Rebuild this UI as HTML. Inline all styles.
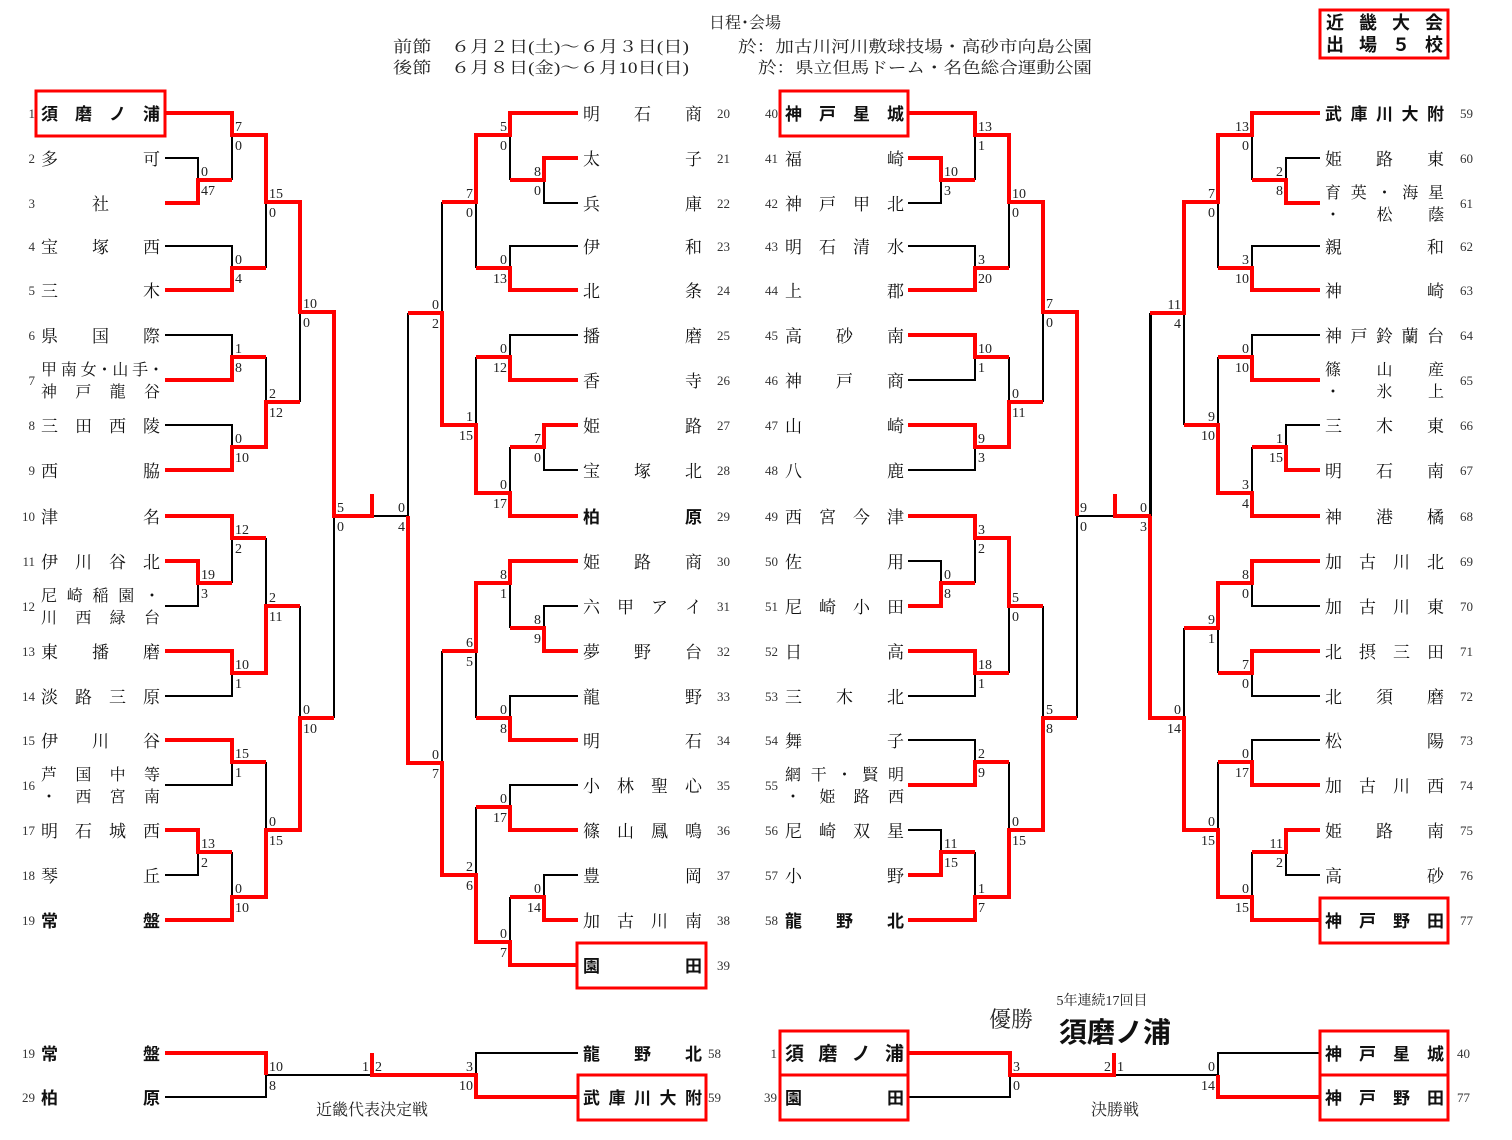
<!DOCTYPE html>
<html><head><meta charset="utf-8">
<style>
body{margin:0;background:#fff;}
#w{position:relative;width:1512px;height:1140px;overflow:hidden;background:#fff;}
svg{position:absolute;left:0;top:0;}
.n{position:absolute;width:119px;height:20px;line-height:20px;font-size:17px;text-align:justify;text-align-last:justify;font-family:"Liberation Serif","Noto Serif CJK SC",serif;color:#111;white-space:nowrap;margin-top:2px;}
.n2{position:absolute;width:119px;line-height:22px;font-size:16px;text-align:justify;text-align-last:justify;font-family:"Liberation Serif","Noto Serif CJK SC",serif;color:#111;margin-top:2px;}
.c{text-align:center;text-align-last:center;}
.b{font-family:"Liberation Sans","Noto Sans CJK JP",sans-serif;font-weight:bold;}
</style></head><body><div id="w">
<svg width="1512" height="1140" viewBox="0 0 1512 1140" xmlns="http://www.w3.org/2000/svg">
<g fill="none" stroke="#000" stroke-width="2">
<path d="M165,158H198V180 M232,135V180 M165,246H232V268 M266,202V268 M165,335H232V357 M165,425H232V447 M266,357V402 M300,312V402 M165,606H198V583 M232,538V583 M165,696H232V673 M266,538V606 M165,785H232V762 M165,875H198V852 M232,852V897 M266,762V830 M300,606V718 M334,516V718 M372,516H408 M408,313V516"/>
<path d="M578,203H544V180 M510,135V180 M578,246H510V268 M476,202V268 M578,335H510V357 M578,470H544V447 M510,447V493 M476,357V425 M442,202V313 M578,606H544V628 M510,583V628 M578,696H510V718 M476,651V718 M578,785H510V807 M578,875H544V897 M510,897V942 M476,807V875 M442,651V763"/>
<path transform="translate(743,0)" d="M165,203H198V180 M232,135V180 M165,246H232V268 M266,202V268 M165,380H232V357 M165,470H232V447 M266,357V402 M300,312V402 M165,561H198V583 M232,538V583 M165,696H232V673 M266,606V673 M165,740H232V762 M165,830H198V852 M232,852V897 M266,762V830 M300,606V718 M334,516V718 M334,516H372 M408,313V516"/>
<path transform="translate(742,0)" d="M578,158H544V180 M510,135V180 M578,246H510V268 M476,202V268 M578,335H510V357 M578,425H544V447 M510,447V493 M476,357V425 M442,313V425 M578,606H510V583 M578,696H510V673 M476,628V673 M578,740H510V762 M578,875H544V852 M510,852V897 M476,762V830 M442,628V718 M408,313V516"/>
<path d="M165,1097H266V1075 M266,1075H372 M578,1053H476V1075 M908,1097H1010V1075 M1114,1075H1218 M1320,1053H1218V1075"/>
</g>
<g fill="none" stroke="#ff0000" stroke-width="4">
<path d="M165,113H232V135H266V202H300V312H334V516H372 M372,494V518 M165,203H198V180H232 M165,290H232V268H266 M165,380H232V357H266 M165,470H232V447H266V402H300 M165,516H232V538H266 M165,561H198V583H232 M165,651H232V673H266V606H300 M165,740H232V762H266 M165,830H198V852H232 M165,920H232V897H266V830H300V718H334"/>
<path d="M578,113H510V135H476V202H442 M578,158H544V180H510 M578,290H510V268H476 M578,380H510V357H476 M578,425H544V447H510 M578,516H510V493H476V425H442V313H408 M578,561H510V583H476V651H442 M578,651H544V628H510 M578,740H510V718H476 M578,830H510V807H476 M578,920H544V897H510 M578,965H510V942H476V875H442V763H408V516"/>
<path transform="translate(743,0)" d="M165,113H232V135H266V202H300V312H334V516 M165,158H198V180H232 M165,290H232V268H266 M165,335H232V357H266 M165,425H232V447H266V402H300 M165,516H232V538H266V606H300 M165,606H198V583H232 M165,651H232V673H266 M165,785H232V762H266 M165,875H198V852H232 M165,920H232V897H266V830H300V718H334 M372,494V516H408"/>
<path transform="translate(742,0)" d="M578,113H510V135H476V202H442V313H408 M578,203H544V180H510 M578,290H510V268H476 M578,380H510V357H476 M578,470H544V447H510 M578,516H510V493H476V425H442 M578,561H510V583H476V628H442 M578,651H510V673H476 M578,785H510V762H476 M578,830H544V852H510 M578,920H510V897H476V830H442V718H408V516"/>
<path d="M165,1053H266V1075 M372,1053V1075H476V1097H578 M908,1053H1010V1075H1114 M1114,1053V1077 M1218,1075V1097H1320"/>
</g>
<g fill="none" stroke="#ff0000" stroke-width="3">
<rect x="36" y="91" width="129" height="45"/>
<rect x="577" y="943" width="129" height="45"/>
<rect x="780" y="91" width="128" height="45"/>
<rect x="1320" y="898" width="128" height="45"/>
<rect x="1320" y="10" width="128" height="48"/>
<rect x="578" y="1075" width="128" height="45"/>
<rect x="780" y="1031" width="128" height="44"/>
<rect x="780" y="1075" width="128" height="45"/>
<rect x="1320" y="1031" width="128" height="44"/>
<rect x="1320" y="1075" width="128" height="45"/>
</g>
<g font-family="Liberation Serif, serif" font-size="14" fill="#222">
<text x="201" y="176">0</text><text x="201" y="195">47</text>
<text x="235" y="131">7</text><text x="235" y="150">0</text>
<text x="235" y="264">0</text><text x="235" y="283">4</text>
<text x="269" y="198">15</text><text x="269" y="217">0</text>
<text x="235" y="353">1</text><text x="235" y="372">8</text>
<text x="235" y="443">0</text><text x="235" y="462">10</text>
<text x="269" y="398">2</text><text x="269" y="417">12</text>
<text x="303" y="308">10</text><text x="303" y="327">0</text>
<text x="201" y="579">19</text><text x="201" y="598">3</text>
<text x="235" y="534">12</text><text x="235" y="553">2</text>
<text x="235" y="669">10</text><text x="235" y="688">1</text>
<text x="269" y="602">2</text><text x="269" y="621">11</text>
<text x="235" y="758">15</text><text x="235" y="777">1</text>
<text x="201" y="848">13</text><text x="201" y="867">2</text>
<text x="235" y="893">0</text><text x="235" y="912">10</text>
<text x="269" y="826">0</text><text x="269" y="845">15</text>
<text x="303" y="714">0</text><text x="303" y="733">10</text>
<text x="337" y="512">5</text><text x="337" y="531">0</text>
<text x="944" y="176">10</text><text x="944" y="195">3</text>
<text x="978" y="131">13</text><text x="978" y="150">1</text>
<text x="978" y="264">3</text><text x="978" y="283">20</text>
<text x="1012" y="198">10</text><text x="1012" y="217">0</text>
<text x="978" y="353">10</text><text x="978" y="372">1</text>
<text x="978" y="443">9</text><text x="978" y="462">3</text>
<text x="1012" y="398">0</text><text x="1012" y="417">11</text>
<text x="1046" y="308">7</text><text x="1046" y="327">0</text>
<text x="944" y="579">0</text><text x="944" y="598">8</text>
<text x="978" y="534">3</text><text x="978" y="553">2</text>
<text x="978" y="669">18</text><text x="978" y="688">1</text>
<text x="1012" y="602">5</text><text x="1012" y="621">0</text>
<text x="978" y="758">2</text><text x="978" y="777">9</text>
<text x="944" y="848">11</text><text x="944" y="867">15</text>
<text x="978" y="893">1</text><text x="978" y="912">7</text>
<text x="1012" y="826">0</text><text x="1012" y="845">15</text>
<text x="1046" y="714">5</text><text x="1046" y="733">8</text>
<text x="1080" y="512">9</text><text x="1080" y="531">0</text>
<text x="269" y="1071">10</text><text x="269" y="1090">8</text>
<text x="375" y="1071">2</text>
<text x="1013" y="1071">3</text><text x="1013" y="1090">0</text>
<text x="1117" y="1071">1</text>
</g>
<g font-family="Liberation Serif, serif" font-size="14" fill="#222" text-anchor="end">
<text x="541" y="176">8</text><text x="541" y="195">0</text>
<text x="507" y="131">5</text><text x="507" y="150">0</text>
<text x="507" y="264">0</text><text x="507" y="283">13</text>
<text x="473" y="198">7</text><text x="473" y="217">0</text>
<text x="507" y="353">0</text><text x="507" y="372">12</text>
<text x="541" y="443">7</text><text x="541" y="462">0</text>
<text x="507" y="489">0</text><text x="507" y="508">17</text>
<text x="473" y="421">1</text><text x="473" y="440">15</text>
<text x="439" y="309">0</text><text x="439" y="328">2</text>
<text x="405" y="512">0</text><text x="405" y="531">4</text>
<text x="541" y="624">8</text><text x="541" y="643">9</text>
<text x="507" y="579">8</text><text x="507" y="598">1</text>
<text x="507" y="714">0</text><text x="507" y="733">8</text>
<text x="473" y="647">6</text><text x="473" y="666">5</text>
<text x="507" y="803">0</text><text x="507" y="822">17</text>
<text x="541" y="893">0</text><text x="541" y="912">14</text>
<text x="507" y="938">0</text><text x="507" y="957">7</text>
<text x="473" y="871">2</text><text x="473" y="890">6</text>
<text x="439" y="759">0</text><text x="439" y="778">7</text>
<text x="1283" y="176">2</text><text x="1283" y="195">8</text>
<text x="1249" y="131">13</text><text x="1249" y="150">0</text>
<text x="1249" y="264">3</text><text x="1249" y="283">10</text>
<text x="1215" y="198">7</text><text x="1215" y="217">0</text>
<text x="1249" y="353">0</text><text x="1249" y="372">10</text>
<text x="1283" y="443">1</text><text x="1283" y="462">15</text>
<text x="1249" y="489">3</text><text x="1249" y="508">4</text>
<text x="1215" y="421">9</text><text x="1215" y="440">10</text>
<text x="1181" y="309">11</text><text x="1181" y="328">4</text>
<text x="1147" y="512">0</text><text x="1147" y="531">3</text>
<text x="1249" y="579">8</text><text x="1249" y="598">0</text>
<text x="1249" y="669">7</text><text x="1249" y="688">0</text>
<text x="1215" y="624">9</text><text x="1215" y="643">1</text>
<text x="1249" y="758">0</text><text x="1249" y="777">17</text>
<text x="1283" y="848">11</text><text x="1283" y="867">2</text>
<text x="1249" y="893">0</text><text x="1249" y="912">15</text>
<text x="1215" y="826">0</text><text x="1215" y="845">15</text>
<text x="1181" y="714">0</text><text x="1181" y="733">14</text>
<text x="369" y="1071">1</text>
<text x="473" y="1071">3</text><text x="473" y="1090">10</text>
<text x="1111" y="1071">2</text>
<text x="1215" y="1071">0</text><text x="1215" y="1090">14</text>
</g>
<g font-family="Liberation Serif, serif" font-size="13" fill="#333" text-anchor="end">
<text x="35" y="118">1</text><text x="35" y="163">2</text><text x="35" y="208">3</text><text x="35" y="251">4</text><text x="35" y="295">5</text><text x="35" y="340">6</text><text x="35" y="385">7</text><text x="35" y="430">8</text><text x="35" y="475">9</text><text x="35" y="521">10</text><text x="35" y="566">11</text><text x="35" y="611">12</text><text x="35" y="656">13</text><text x="35" y="701">14</text><text x="35" y="745">15</text><text x="35" y="790">16</text><text x="35" y="835">17</text><text x="35" y="880">18</text><text x="35" y="925">19</text>
<text x="778" y="118">40</text><text x="778" y="163">41</text><text x="778" y="208">42</text><text x="778" y="251">43</text><text x="778" y="295">44</text><text x="778" y="340">45</text><text x="778" y="385">46</text><text x="778" y="430">47</text><text x="778" y="475">48</text><text x="778" y="521">49</text><text x="778" y="566">50</text><text x="778" y="611">51</text><text x="778" y="656">52</text><text x="778" y="701">53</text><text x="778" y="745">54</text><text x="778" y="790">55</text><text x="778" y="835">56</text><text x="778" y="880">57</text><text x="778" y="925">58</text>
<text x="35" y="1058">19</text><text x="35" y="1102">29</text><text x="777" y="1058">1</text><text x="777" y="1102">39</text>
</g>
<g font-family="Liberation Serif, serif" font-size="13" fill="#333">
<text x="717" y="118">20</text><text x="717" y="163">21</text><text x="717" y="208">22</text><text x="717" y="251">23</text><text x="717" y="295">24</text><text x="717" y="340">25</text><text x="717" y="385">26</text><text x="717" y="430">27</text><text x="717" y="475">28</text><text x="717" y="521">29</text><text x="717" y="566">30</text><text x="717" y="611">31</text><text x="717" y="656">32</text><text x="717" y="701">33</text><text x="717" y="745">34</text><text x="717" y="790">35</text><text x="717" y="835">36</text><text x="717" y="880">37</text><text x="717" y="925">38</text><text x="717" y="970">39</text>
<text x="1460" y="118">59</text><text x="1460" y="163">60</text><text x="1460" y="208">61</text><text x="1460" y="251">62</text><text x="1460" y="295">63</text><text x="1460" y="340">64</text><text x="1460" y="385">65</text><text x="1460" y="430">66</text><text x="1460" y="475">67</text><text x="1460" y="521">68</text><text x="1460" y="566">69</text><text x="1460" y="611">70</text><text x="1460" y="656">71</text><text x="1460" y="701">72</text><text x="1460" y="745">73</text><text x="1460" y="790">74</text><text x="1460" y="835">75</text><text x="1460" y="880">76</text><text x="1460" y="925">77</text>
<text x="708" y="1058">58</text><text x="708" y="1102">59</text><text x="1457" y="1058">40</text><text x="1457" y="1102">77</text>
</g>
<g font-family="Liberation Serif, 'Noto Serif CJK SC', serif" font-size="16" fill="#222">
<text x="745" y="28" text-anchor="middle">日程･会場</text>
<text x="393" y="52" textLength="296" lengthAdjust="spacingAndGlyphs">前節　６月２日(土)～６月３日(日)</text>
<text x="393" y="73" textLength="296" lengthAdjust="spacingAndGlyphs">後節　６月８日(金)～６月10日(日)</text>
<text x="738" y="52" textLength="354" lengthAdjust="spacingAndGlyphs">於：加古川河川敷球技場・高砂市向島公園</text>
<text x="758" y="73" textLength="334" lengthAdjust="spacingAndGlyphs">於：県立但馬ドーム・名色総合運動公園</text>
<text x="372" y="1115" text-anchor="middle">近畿代表決定戦</text>
<text x="1115" y="1115" text-anchor="middle">決勝戦</text>
<text x="1102" y="1005" text-anchor="middle" font-size="14">5年連続17回目</text>
<text x="1011" y="1027" text-anchor="middle" font-size="22">優勝</text>
</g>
<text x="1115" y="1042" text-anchor="middle" font-family="Liberation Sans, 'Noto Sans CJK JP', sans-serif" font-weight="bold" font-size="28" fill="#111">須磨ノ浦</text>
</svg>

<div class="n b" style="left:1326px;top:10px;width:117px;font-size:18px;line-height:22px;height:22px">近 畿 大 会</div>
<div class="n b" style="left:1326px;top:32px;width:117px;font-size:18px;line-height:22px;height:22px">出 場 ５ 校</div>

<div class="n b" style="left:41px;top:103px">須 磨 ノ 浦</div>
<div class="n" style="left:41px;top:148px">多 可</div>
<div class="n c" style="left:41px;top:193px">社</div>
<div class="n" style="left:41px;top:236px">宝 塚 西</div>
<div class="n" style="left:41px;top:280px">三 木</div>
<div class="n" style="left:41px;top:325px">県 国 際</div>
<div class="n2" style="left:41px;top:358px">甲南女･山手･<br>神 戸 龍 谷</div>
<div class="n" style="left:41px;top:415px">三 田 西 陵</div>
<div class="n" style="left:41px;top:460px">西 脇</div>
<div class="n" style="left:41px;top:506px">津 名</div>
<div class="n" style="left:41px;top:551px">伊 川 谷 北</div>
<div class="n2" style="left:41px;top:584px">尼 崎 稲 園 ・<br>川 西 緑 台</div>
<div class="n" style="left:41px;top:641px">東 播 磨</div>
<div class="n" style="left:41px;top:686px">淡 路 三 原</div>
<div class="n" style="left:41px;top:730px">伊 川 谷</div>
<div class="n2" style="left:41px;top:763px">芦 国 中 等<br>・ 西 宮 南</div>
<div class="n" style="left:41px;top:820px">明 石 城 西</div>
<div class="n" style="left:41px;top:865px">琴 丘</div>
<div class="n b" style="left:41px;top:910px">常 盤</div>

<div class="n" style="left:583px;top:103px">明 石 商</div>
<div class="n" style="left:583px;top:148px">太 子</div>
<div class="n" style="left:583px;top:193px">兵 庫</div>
<div class="n" style="left:583px;top:236px">伊 和</div>
<div class="n" style="left:583px;top:280px">北 条</div>
<div class="n" style="left:583px;top:325px">播 磨</div>
<div class="n" style="left:583px;top:370px">香 寺</div>
<div class="n" style="left:583px;top:415px">姫 路</div>
<div class="n" style="left:583px;top:460px">宝 塚 北</div>
<div class="n b" style="left:583px;top:506px">柏 原</div>
<div class="n" style="left:583px;top:551px">姫 路 商</div>
<div class="n" style="left:583px;top:596px">六 甲 ア イ</div>
<div class="n" style="left:583px;top:641px">夢 野 台</div>
<div class="n" style="left:583px;top:686px">龍 野</div>
<div class="n" style="left:583px;top:730px">明 石</div>
<div class="n" style="left:583px;top:775px">小 林 聖 心</div>
<div class="n" style="left:583px;top:820px">篠 山 鳳 鳴</div>
<div class="n" style="left:583px;top:865px">豊 岡</div>
<div class="n" style="left:583px;top:910px">加 古 川 南</div>
<div class="n b" style="left:583px;top:955px">園 田</div>

<div class="n b" style="left:785px;top:103px">神 戸 星 城</div>
<div class="n" style="left:785px;top:148px">福 崎</div>
<div class="n" style="left:785px;top:193px">神 戸 甲 北</div>
<div class="n" style="left:785px;top:236px">明 石 清 水</div>
<div class="n" style="left:785px;top:280px">上 郡</div>
<div class="n" style="left:785px;top:325px">高 砂 南</div>
<div class="n" style="left:785px;top:370px">神 戸 商</div>
<div class="n" style="left:785px;top:415px">山 崎</div>
<div class="n" style="left:785px;top:460px">八 鹿</div>
<div class="n" style="left:785px;top:506px">西 宮 今 津</div>
<div class="n" style="left:785px;top:551px">佐 用</div>
<div class="n" style="left:785px;top:596px">尼 崎 小 田</div>
<div class="n" style="left:785px;top:641px">日 高</div>
<div class="n" style="left:785px;top:686px">三 木 北</div>
<div class="n" style="left:785px;top:730px">舞 子</div>
<div class="n2" style="left:785px;top:763px">網 干 ・ 賢 明<br>・ 姫 路 西</div>
<div class="n" style="left:785px;top:820px">尼 崎 双 星</div>
<div class="n" style="left:785px;top:865px">小 野</div>
<div class="n b" style="left:785px;top:910px">龍 野 北</div>

<div class="n b" style="left:1325px;top:103px">武 庫 川 大 附</div>
<div class="n" style="left:1325px;top:148px">姫 路 東</div>
<div class="n2" style="left:1325px;top:181px">育 英 ・ 海 星<br>・ 松 蔭</div>
<div class="n" style="left:1325px;top:236px">親 和</div>
<div class="n" style="left:1325px;top:280px">神 崎</div>
<div class="n" style="left:1325px;top:325px">神 戸 鈴 蘭 台</div>
<div class="n2" style="left:1325px;top:358px">篠 山 産<br>・ 氷 上</div>
<div class="n" style="left:1325px;top:415px">三 木 東</div>
<div class="n" style="left:1325px;top:460px">明 石 南</div>
<div class="n" style="left:1325px;top:506px">神 港 橘</div>
<div class="n" style="left:1325px;top:551px">加 古 川 北</div>
<div class="n" style="left:1325px;top:596px">加 古 川 東</div>
<div class="n" style="left:1325px;top:641px">北 摂 三 田</div>
<div class="n" style="left:1325px;top:686px">北 須 磨</div>
<div class="n" style="left:1325px;top:730px">松 陽</div>
<div class="n" style="left:1325px;top:775px">加 古 川 西</div>
<div class="n" style="left:1325px;top:820px">姫 路 南</div>
<div class="n" style="left:1325px;top:865px">高 砂</div>
<div class="n b" style="left:1325px;top:910px">神 戸 野 田</div>

<div class="n b" style="left:41px;top:1043px">常 盤</div>
<div class="n b" style="left:41px;top:1087px">柏 原</div>
<div class="n b" style="left:583px;top:1043px">龍 野 北</div>
<div class="n b" style="left:583px;top:1087px">武 庫 川 大 附</div>
<div class="n b" style="left:785px;top:1043px;font-size:19px">須 磨 ノ 浦</div>
<div class="n b" style="left:785px;top:1087px">園 田</div>
<div class="n b" style="left:1325px;top:1043px">神 戸 星 城</div>
<div class="n b" style="left:1325px;top:1087px">神 戸 野 田</div>
</div></body></html>
